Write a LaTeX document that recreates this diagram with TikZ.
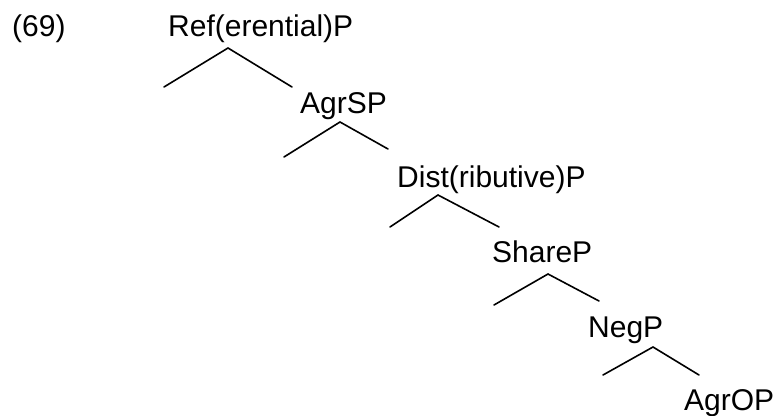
\documentclass[tikz,border=0pt]{standalone}
\usepackage{fontspec}
\setmainfont{Liberation Sans}
\begin{document}
\begin{tikzpicture}[x=1pt,y=-1pt,
  lbl/.style={anchor=base west,inner sep=0pt,font=\fontsize{30}{36}\selectfont},
  br/.style={line width=1.6pt,line cap=round}]
\useasboundingbox (0,0) rectangle (778,415);
\node[lbl] (ex) at (12,36) {(69)};
\node[lbl] (ref) at (168,36) {Ref(erential)P};
\node[lbl] (agrs) at (300,113) {AgrSP};
\node[lbl] (dist) at (397,187) {Dist(ributive)P};
\node[lbl] (share) at (492,262) {ShareP};
\node[lbl] (neg) at (588,337) {NegP};
\node[lbl] (agro) at (684,410) {AgrOP};
% apexes and branch ends
\coordinate (a1) at (228,48);  \coordinate (l1) at (164,87);  \coordinate (r1) at (292,87);
\coordinate (a2) at (340,122); \coordinate (l2) at (284,157); \coordinate (r2) at (388,149);
\coordinate (a3) at (438,195); \coordinate (l3) at (390,227); \coordinate (r3) at (499,227);
\coordinate (a4) at (548,274); \coordinate (l4) at (494,305); \coordinate (r4) at (599,301);
\coordinate (a5) at (653,347); \coordinate (l5) at (603,375); \coordinate (r5) at (699,375);
\draw[br] (l1) -- (a1) -- (r1);
\draw[br] (l2) -- (a2) -- (r2);
\draw[br] (l3) -- (a3) -- (r3);
\draw[br] (l4) -- (a4) -- (r4);
\draw[br] (l5) -- (a5) -- (r5);
\end{tikzpicture}
\end{document}
